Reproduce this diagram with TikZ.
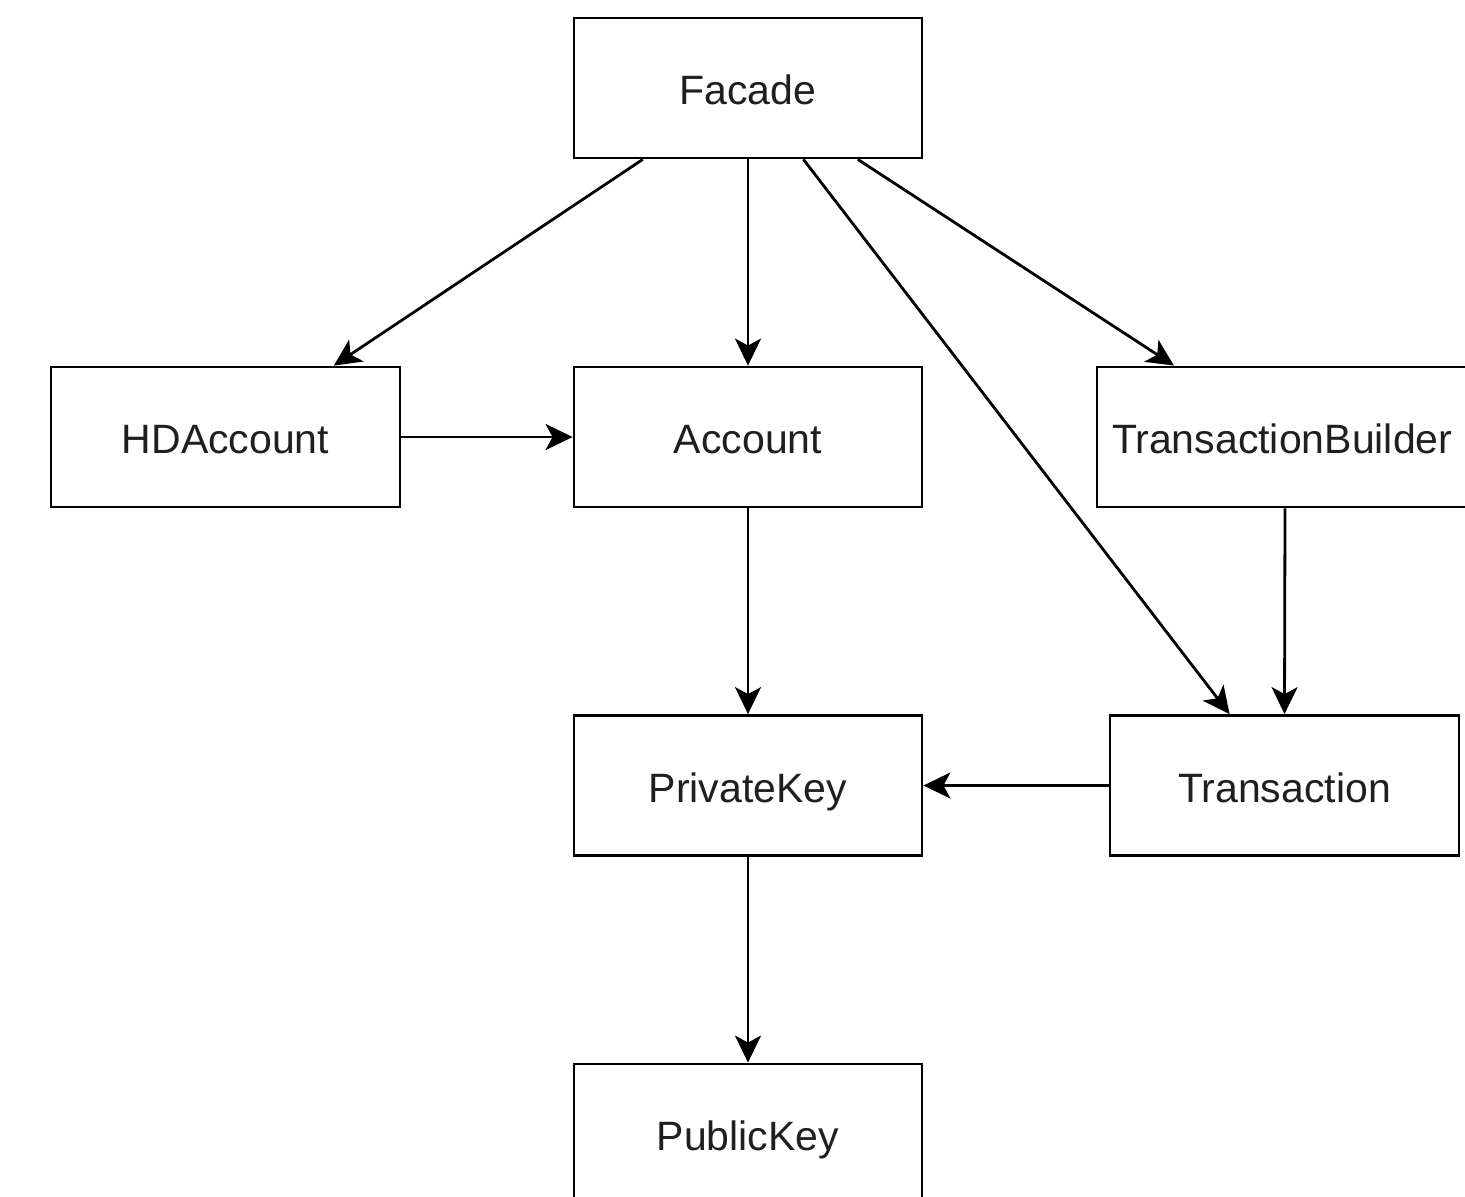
\documentclass[tikz,border=0pt]{standalone}
\usepackage{fontspec}
\setmainfont{Liberation Sans}
\usetikzlibrary{arrows.meta,calc}
\begin{document}
\begin{tikzpicture}[x=1pt,y=-1pt,
  box/.style={draw=black, line width=2.8pt, fill=white, minimum height=140pt, minimum width=348pt, inner sep=0pt, text height=40pt, text depth=7pt, font=\fontsize{41}{49}\selectfont, text=black!88},
  conn/.style={draw=black, line width=2.8pt, -{Stealth[length=27pt,width=26pt,inset=7pt]}}
]
\useasboundingbox (0,0) rectangle (1465,1197);
\clip (0,0) rectangle (1465,1197);
\node[box] (F) at (748,88) {Facade};
\node[box, minimum width=349pt] (H) at (225.5,437) {HDAccount};
\node[box] (A) at (748,437) {Account};
\node[box, minimum width=376pt, text width=376pt, align=left] (TB) at (1285,437) {\hspace*{15pt}TransactionBuilder};
\node[box] (P) at (748,785.5) {PrivateKey};
\node[box, minimum width=349pt] (T) at (1284.5,785.5) {Transaction};
\node[box] (K) at (748,1134) {PublicKey};
\draw[conn] ($(F.south west)!0.2!(F.south east)$) -- ($(H.north west)!0.808!(H.north east)$);
\draw[conn] (F.south) -- (A.north);
\draw[conn] ($(F.south west)!0.658!(F.south east)$) -- ($(T.north west)!0.344!(T.north east)$);
\draw[conn] ($(F.south west)!0.813!(F.south east)$) -- ($(TB.north west)!0.207!(TB.north east)$);
\draw[conn] (H.east) -- (A.west);
\draw[conn] (A.south) -- (P.north);
\draw[conn] (TB.south) -- (T.north);
\draw[conn] (T.west) -- (P.east);
\draw[conn] (P.south) -- (K.north);
\end{tikzpicture}
\end{document}
